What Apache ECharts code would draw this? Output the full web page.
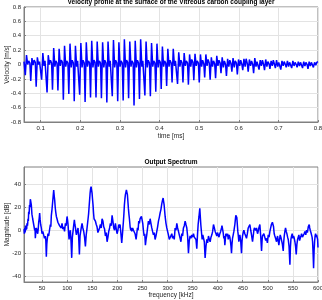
<!DOCTYPE html>
<html><head><meta charset="utf-8">
<script src="https://cdn.jsdelivr.net/npm/echarts@6/dist/echarts.min.js"></script>
<style>html,body{margin:0;padding:0;background:#fff}#c{width:322px;height:300px}</style>
</head><body><div id="c"></div>
<script>
// ---- Top panel: velocity profile (time in ms, velocity in m/s) ----
const velocityTicksX = [0.1, 0.2, 0.3, 0.4, 0.5, 0.6, 0.7, 0.8];
const velocityTicksY = [-0.8, -0.6, -0.4, -0.2, 0, 0.2, 0.4, 0.6, 0.8];
const velocity = [
  [0.0580, 0.04],
  [0.0613,-0.15],[0.0643,0.13],[0.0673,0.00],[0.0698,0.05],[0.0728,0.02],
  [0.0750,-0.23],[0.0780,0.09],[0.0810,-0.01],[0.0835,0.06],[0.0865,0.03],
  [0.0887,-0.31],[0.0917,0.10],[0.0947,0.00],[0.0972,0.04],[0.1002,0.02],
  [0.1025,-0.21],[0.1055,0.16],[0.1085,-0.02],[0.1110,0.05],[0.1140,0.03],
  [0.1162,-0.39],[0.1192,0.13],[0.1222,0.00],[0.1247,0.06],[0.1277,0.02],
  [0.1299,-0.35],[0.1329,0.23],[0.1359,-0.03],[0.1384,0.05],[0.1414,0.02],
  [0.1436,-0.36],[0.1466,0.22],[0.1496,-0.02],[0.1521,0.06],[0.1551,0.03],
  [0.1573,-0.49],[0.1603,0.26],[0.1633,-0.03],[0.1658,0.05],[0.1688,0.02],
  [0.1711,-0.41],[0.1741,0.29],[0.1771,-0.04],[0.1796,0.06],[0.1826,0.02],
  [0.1848,-0.51],[0.1878,0.26],[0.1908,-0.03],[0.1933,0.05],[0.1963,0.03],
  [0.1985,-0.42],[0.2015,0.30],[0.2045,-0.04],[0.2070,0.06],[0.2100,0.02],
  [0.2122,-0.52],[0.2152,0.31],[0.2182,-0.03],[0.2207,0.05],[0.2237,0.02],
  [0.2259,-0.46],[0.2289,0.33],[0.2319,-0.04],[0.2344,0.06],[0.2374,0.03],
  [0.2397,-0.46],[0.2427,0.32],[0.2457,-0.03],[0.2482,0.05],[0.2512,0.02],
  [0.2534,-0.47],[0.2564,0.31],[0.2594,-0.04],[0.2619,0.06],[0.2649,0.02],
  [0.2671,-0.53],[0.2701,0.32],[0.2731,-0.03],[0.2756,0.05],[0.2786,0.03],
  [0.2808,-0.44],[0.2838,0.34],[0.2868,-0.04],[0.2893,0.06],[0.2923,0.02],
  [0.2945,-0.51],[0.2975,0.31],[0.3005,-0.03],[0.3030,0.05],[0.3060,0.02],
  [0.3083,-0.50],[0.3113,0.35],[0.3143,-0.04],[0.3168,0.06],[0.3198,0.03],
  [0.3220,-0.47],[0.3250,0.32],[0.3280,-0.03],[0.3305,0.05],[0.3335,0.02],
  [0.3357,-0.57],[0.3387,0.33],[0.3417,-0.04],[0.3442,0.06],[0.3472,0.02],
  [0.3494,-0.48],[0.3524,0.35],[0.3554,-0.03],[0.3579,0.05],[0.3609,0.03],
  [0.3631,-0.43],[0.3661,0.32],[0.3691,-0.04],[0.3716,0.06],[0.3746,0.02],
  [0.3769,-0.44],[0.3799,0.30],[0.3829,-0.03],[0.3854,0.05],[0.3884,0.02],
  [0.3906,-0.38],[0.3936,0.29],[0.3966,-0.04],[0.3991,0.06],[0.4021,0.03],
  [0.4043,-0.34],[0.4073,0.25],[0.4103,-0.03],[0.4128,0.05],[0.4158,0.02],
  [0.4180,-0.30],[0.4210,0.22],[0.4240,-0.03],[0.4265,0.06],[0.4295,0.02],
  [0.4317,-0.25],[0.4347,0.22],[0.4377,-0.02],[0.4402,0.05],[0.4432,0.03],
  [0.4455,-0.27],[0.4485,0.17],[0.4515,-0.03],[0.4540,0.06],[0.4570,0.02],
  [0.4592,-0.25],[0.4622,0.16],[0.4652,-0.02],[0.4677,0.05],[0.4707,0.02],
  [0.4729,-0.28],[0.4759,0.14],[0.4789,-0.03],[0.4814,0.07],[0.4844,0.03],
  [0.4866,-0.22],[0.4896,0.15],[0.4926,-0.02],[0.4951,0.05],[0.4981,0.02],
  [0.5003,-0.25],[0.5033,0.14],[0.5063,-0.03],[0.5088,0.06],[0.5118,0.01],
  [0.5140,-0.18],[0.5170,0.14],[0.5200,-0.02],[0.5225,0.07],[0.5255,0.02],
  [0.5278,-0.21],[0.5308,0.10],[0.5338,-0.03],[0.5363,0.05],[0.5393,0.01],
  [0.5415,-0.19],[0.5445,0.12],[0.5475,-0.02],[0.5500,0.06],[0.5530,0.02],
  [0.5552,-0.12],[0.5582,0.10],[0.5612,-0.04],[0.5637,0.05],[0.5667,0.00],
  [0.5689,-0.16],[0.5719,0.08],[0.5749,-0.03],[0.5774,0.06],[0.5804,0.01],
  [0.5826,-0.10],[0.5856,0.09],[0.5886,-0.04],[0.5911,0.05],[0.5941,0.02],
  [0.5964,-0.14],[0.5994,0.07],[0.6024,-0.02],[0.6049,0.06],[0.6079,0.00],
  [0.6101,-0.08],[0.6131,0.08],[0.6161,-0.03],[0.6186,0.08],[0.6216,0.01],
  [0.6238,-0.10],[0.6268,0.07],[0.6298,-0.02],[0.6323,0.05],[0.6353,0.00],
  [0.6375,-0.12],[0.6405,0.09],[0.6435,-0.03],[0.6460,0.04],[0.6490,0.02],
  [0.6512,-0.07],[0.6542,0.06],[0.6572,-0.02],[0.6597,0.06],[0.6627,0.00],
  [0.6650,-0.08],[0.6680,0.07],[0.6710,-0.03],[0.6735,0.04],[0.6765,0.01],
  [0.6787,-0.06],[0.6817,0.05],[0.6847,-0.02],[0.6872,0.06],[0.6902,0.00],
  [0.6924,-0.05],[0.6954,0.06],[0.6984,-0.03],[0.7009,0.03],[0.7039,0.01],
  [0.7061,-0.07],[0.7091,0.05],[0.7121,-0.02],[0.7146,0.04],[0.7176,0.00],
  [0.7198,-0.04],[0.7228,0.05],[0.7258,-0.03],[0.7283,0.03],[0.7313,0.01],
  [0.7336,-0.05],[0.7366,0.05],[0.7396,-0.02],[0.7421,0.03],[0.7451,0.00],
  [0.7473,-0.04],[0.7503,0.04],[0.7533,-0.02],[0.7558,0.03],[0.7588,0.01],
  [0.7610,-0.05],[0.7640,0.04],[0.7670,-0.02],[0.7695,0.03],[0.7725,0.00],
  [0.7747,-0.06],[0.7777,0.04],[0.7807,-0.02],[0.7832,0.03],[0.7862,0.01],
  [0.7884,-0.04],[0.7914,0.03],[0.7944,-0.01],[0.7969,0.03],[0.8000,0.04]
];

// ---- Bottom panel: output spectrum (kHz, dB) ----
const spectrumTicksX = [50, 100, 150, 200, 250, 300, 350, 400, 450, 500, 550, 600];
const spectrumTicksY = [-40, -20, 0, 20, 40];
const spectrum = [
  [14,1],[14.8,-3],[15.5,2],[16.3,-2],[17,4],[17.8,0],[18.5,3],[19.3,1],[20,6],[21,4],
  [22,10],[22.7,8],[23.3,16],[24.2,14],[25,22],[25.8,20],[26.6,27],[27.5,25],[28.6,22],[29.8,14],
  [31.3,10],[32.3,11],[33.3,5],[34.3,6],[35.3,0],[36,2],[36.6,-7],[37.6,-1],[38.6,2],[39.9,-1],
  [41.3,-3],[42.3,1],[43.3,7],[44.2,10],[45.2,15],[46.2,9],[47.2,5],[48.5,2],[49.9,-3],[51.5,-1],
  [53.2,-4],[54.8,-7],[56.5,-5],[57.5,-9],[58.5,-23],[59.5,-12],[60.5,-7],[61.8,-3],[63.2,-5],[64.8,0],
  [66.5,5],[67.5,3],[68.5,13],[69.8,18],[71.2,25],[72.2,30],[73.2,35],[74.2,30],[75.2,26],[76.2,20],
  [77.2,16],[78.5,12],[79.8,10],[81.5,7],[83.2,8],[84.8,4],[86.5,5],[88.1,2],[89.8,6],[91.4,1],
  [93.1,3],[94.8,-1],[96.5,6],[98.1,4],[99.8,12],[100.8,9],[101.8,5],[102.8,-2],[103.8,-8],[105.1,-3],
  [106.4,0],[107.8,-10],[109.1,-24],[110.4,-6],[111.7,-1],[113,4],[114.4,9],[115.4,5],[116.4,3],[117.4,-1],
  [118.4,-4],[120,-1],[121.7,2],[123,-6],[124.4,-21],[125.7,-5],[127,-1],[128.4,3],[129.7,6],[131.3,2],
  [133,-1],[134.7,-6],[136.4,-14],[138,-4],[139.7,2],[141.7,10],[142.7,14],[143.7,20],[144.7,26],[145.7,32],
  [146.7,36],[147.7,38],[148.7,35],[149.7,32],[150.6,27],[151.6,22],[152.6,15],[153.6,10],[155,11],[156.3,8],
  [158,5],[159.6,3],[161.3,-2],[163,0],[164.6,2],[166.3,5],[168,2],[169.6,10],[171.3,8],[172.9,3],
  [174.6,1],[176.3,-5],[178,-2],[179.6,-10],[181.3,-6],[182.9,-1],[184.6,2],[186.2,6],[187.9,4],[189.6,13],
  [191.2,8],[192.9,2],[194.5,0],[196.2,6],[197.9,1],[199.5,-3],[201.2,0],[202.9,5],[204.2,2],[205.5,5],
  [207.2,-3],[208.8,-11],[210.5,-2],[212.2,8],[213.1,14],[214.1,22],[215.1,27],[216.1,31],[217.1,33],[218.1,35],
  [219.1,33],[220.1,31],[221.1,25],[222.1,19],[223.1,14],[224.1,10],[225.5,3],[226.8,0],[227.8,2],[228.8,-1],
  [230.5,2],[232.1,0],[233.8,1],[235.4,-3],[236.4,-2],[237.4,-8],[238.8,-3],[240.1,2],[241.4,0],[242.7,8],
  [244,6],[245.4,10],[246.7,9],[248.1,12],[249.4,9],[250.7,6],[252,0],[253.4,-5],[254.7,-3],[256,-13],
  [257.3,-8],[258.7,-4],[260.3,2],[262,8],[263.7,5],[265.4,10],[267,6],[268.7,2],[270.3,-1],[272,-4],
  [273.6,-2],[275.3,-8],[277,-5],[278.7,-1],[280.3,3],[282,8],[283.6,11],[285.3,15],[286.9,18],[288.6,23],
  [290,26],[291.3,28],[292.3,25],[293.3,22],[294.3,17],[295.3,12],[297,6],[298.6,2],[300.2,-1],[301.9,-4],
  [303.6,-8],[305.3,-7],[306.9,-9],[308.6,-3],[310.2,-7],[311.9,-5],[313.5,-8],[315.2,2],[316.9,0],[318.6,6],
  [320.2,2],[321.9,-1],[323.5,-4],[325.2,-7],[326.8,-10],[328.5,-3],[330.1,-5],[331.8,2],[333.5,4],[335.2,8],
  [336.8,5],[338.5,2],[340.1,-5],[341.8,-20],[343.4,-9],[345.1,-5],[346.8,-7],[348.5,-4],[350.1,-6],[351.8,-3],
  [353.4,-6],[355.1,-5],[356.8,-8],[358.4,-16],[359.8,-4],[361.1,5],[362.8,12],[364.4,19],[365.4,12],[366.4,5],
  [367.8,-2],[369.1,-8],[370.4,-4],[371.7,-5],[373.4,-10],[375,-24],[376.7,-14],[378.4,-8],[380,-11],[381.7,-5],
  [383.4,-8],[385,-10],[386.7,-6],[388.4,-4],[390,-1],[391.7,5],[393.4,2],[395,-1],[396.7,-3],[398.3,-5],
  [399.7,-2],[401,-3],[402.7,-6],[404.3,-3],[406,-1],[407.7,2],[408.6,4],[409.6,5],[411,-2],[412.3,-7],
  [413.3,-5],[414.3,-13],[415.3,-8],[416.3,-3],[417.7,-2],[419,-5],[420,-3],[421,-8],[422,-6],[423,-4],
  [424.3,-6],[425.6,-10],[426.6,-14],[427.6,-20],[428.6,-12],[429.6,-7],[431,-4],[432.3,-1],[433.3,2],[434.3,5],
  [435.2,9],[436.2,13],[437.2,12],[438.2,11],[439.2,5],[440.2,-1],[441.2,-5],[442.2,-10],[443.2,-7],[444.2,-4],
  [445.9,-9],[447.5,-20],[448.5,-10],[449.5,-5],[450.9,-2],[452.2,0],[453.2,-1],[454.2,-3],[455.9,-5],[457.5,-7],
  [459.2,-3],[460.9,2],[462.6,1],[464.2,5],[465.9,0],[467.5,-4],[468.5,-7],[469.5,-10],[470.9,-5],[472.2,0],
  [473.2,2],[474.2,3],[475.9,0],[477.5,2],[478.5,-1],[479.5,-3],[480.8,-1],[482.1,2],[483.1,3],[484.1,5],
  [485.8,-5],[487.5,-18],[488.5,-9],[489.4,-5],[490.8,-6],[492.1,-3],[493.1,-2],[494.1,-4],[495.8,-9],[497.4,-7],
  [499.1,-11],[500.8,-4],[502.5,-6],[504.1,-1],[505.1,1],[506.1,3],[507.1,5],[508.1,6],[509.1,7],[510.1,8],
  [511.4,3],[512.7,-3],[514,-5],[515.4,-7],[516.4,-8],[517.4,-10],[518.4,-7],[519.4,-5],[520.7,-9],[522,-13],
  [523.4,-8],[524.7,-4],[526,-6],[527.4,-7],[529,-12],[530.7,-18],[531.7,-10],[532.7,-5],[534,-1],[535.3,2],
  [536.7,-1],[538,-3],[539.4,-6],[540.7,-8],[542.3,-14],[544,-30],[545,-15],[546,-8],[547.3,-5],[548.6,-3],
  [550,-7],[551.3,-5],[552.7,-7],[554,-10],[555.3,-14],[556.6,-21],[558,-12],[559.3,-8],[560.6,-6],[561.9,-4],
  [563.3,-9],[564.6,-7],[566,-5],[567.3,-3],[569,-6],[570.6,-5],[572.3,-3],[573.9,-1],[575.6,-4],[577.2,0],
  [578.9,-2],[580.6,3],[581.5,4],[582.5,5],[583.5,2],[584.5,0],[585.9,-2],[587.2,-3],[588.2,-6],[589.2,-10],
  [590.2,-20],[591.2,-33],[592.2,-18],[593.2,-10],[594.2,-5],[595.2,-3],[596.2,-6],[597.2,-4],[598.2,-6],[599.2,-8],
  [600,-15]
];

const FONT = '"Liberation Sans", Arial, Helvetica, sans-serif';
const labelColor = '#262626';
const axisColor = '#808080';
const gridColor = '#e3e3e3';

function xAxisCfg(gridIndex, min, max, ticks, name, nameGap) {
  return {
    type: 'value', gridIndex, min, max,
    name, nameLocation: 'middle', nameGap, nameMoveOverlap: false,
    nameTextStyle: { fontFamily: FONT, fontSize: 6.5, color: labelColor },
    axisLine: { show: true, onZero: false, lineStyle: { color: axisColor, width: 1 } },
    axisTick: { show: true, inside: true, length: 2, customValues: ticks, lineStyle: { color: axisColor } },
    axisLabel: { customValues: ticks, fontFamily: FONT, fontSize: 6, color: labelColor, margin: 3 },
    splitLine: { show: true, lineStyle: { color: gridColor, width: 1 } }
  };
}
function yAxisCfg(gridIndex, min, max, ticks, name) {
  return {
    type: 'value', gridIndex, min, max,
    name, nameLocation: 'middle', nameGap: 13, nameMoveOverlap: false,
    nameTextStyle: { fontFamily: FONT, fontSize: 6.5, color: labelColor },
    axisLine: { show: true, onZero: false, lineStyle: { color: axisColor, width: 1 } },
    axisTick: { show: true, inside: true, length: 2, customValues: ticks, lineStyle: { color: axisColor } },
    axisLabel: { customValues: ticks, fontFamily: FONT, fontSize: 6, color: labelColor, margin: 3 },
    splitLine: { show: true, lineStyle: { color: gridColor, width: 1 } }
  };
}

const chart = echarts.init(document.getElementById('c'), null, { renderer: 'canvas' });
chart.setOption({
  animation: false,
  backgroundColor: '#ffffff',
  title: [
    { text: 'Velocity profile at the surface of the Vitreous carbon coupling layer',
      left: 171, top: -1, textAlign: 'center', padding: 0,
      textStyle: { fontFamily: FONT, fontSize: 6.5, fontWeight: 'bold', color: '#000' } },
    { text: 'Output Spectrum', left: 171, top: 158.5, textAlign: 'center', padding: 0,
      textStyle: { fontFamily: FONT, fontSize: 6.5, fontWeight: 'bold', color: '#000' } }
  ],
  grid: [
    { left: 24, right: 4, top: 7, height: 115, outerBoundsMode: 'none', containLabel: false,
      show: true, borderColor: axisColor, borderWidth: 1, backgroundColor: 'transparent' },
    { left: 24, right: 4, top: 167, height: 115, outerBoundsMode: 'none', containLabel: false,
      show: true, borderColor: axisColor, borderWidth: 1, backgroundColor: 'transparent' }
  ],
  xAxis: [
    xAxisCfg(0, 0.058, 0.8, velocityTicksX, 'time [ms]', 11),
    xAxisCfg(1, 14, 600, spectrumTicksX, 'frequency [kHz]', 10)
  ],
  yAxis: [
    yAxisCfg(0, -0.8, 0.8, velocityTicksY, 'Velocity [m/s]'),
    yAxisCfg(1, -45, 55, spectrumTicksY, 'Magnitude [dB]')
  ],
  series: [
    { type: 'line', xAxisIndex: 0, yAxisIndex: 0, data: velocity, showSymbol: false,
      lineStyle: { color: '#0000ff', width: 1.5 }, clip: true },
    { type: 'line', xAxisIndex: 1, yAxisIndex: 1, data: spectrum, showSymbol: false,
      lineStyle: { color: '#0000ff', width: 1.5 }, clip: true }
  ]
});
</script></body></html>
